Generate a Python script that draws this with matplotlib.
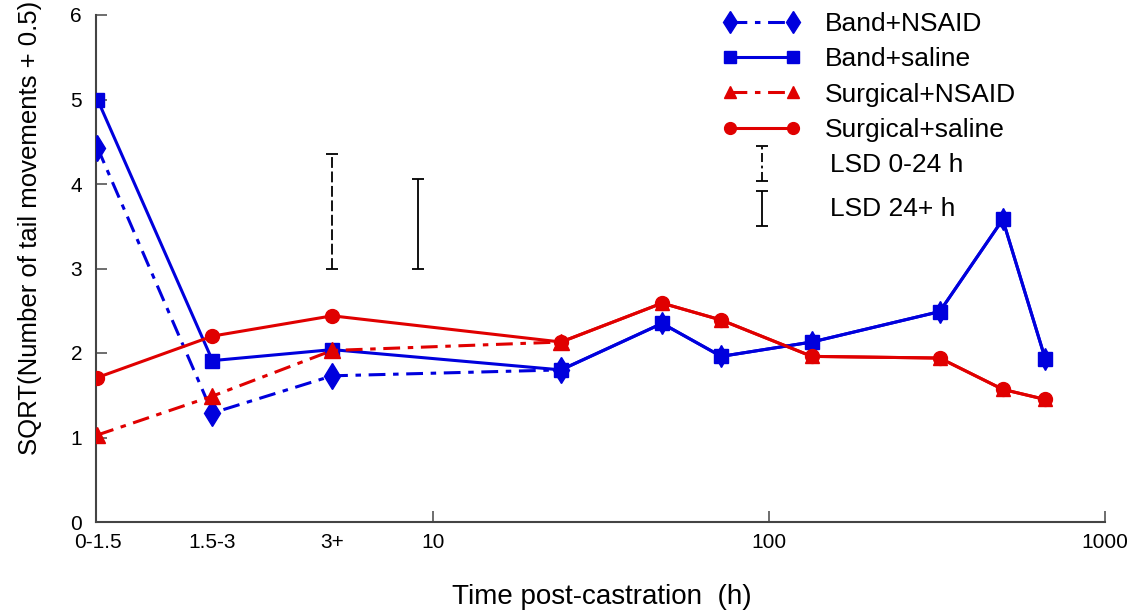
import numpy as np
import matplotlib
matplotlib.use('Agg')
import matplotlib.pyplot as plt

plt.rcParams['font.family'] = ['Liberation Sans', 'DejaVu Sans']

# time (h) on a log axis; the first three are binned categories
hours = [1, 2.2, 5, 24, 48, 72, 134, 322, 496, 664]
early_hours = [1, 2.2, 5, 24]
cat_ticks = [1, 2.2, 5]
cat_labels = ['0-1.5', '1.5-3', '3+']
major_ticks = [10, 100, 1000]

# after 24 h the NSAID and saline groups share the same curve
band_saline = [5.00, 1.91, 2.04, 1.80, 2.35, 1.96, 2.13, 2.49, 3.58, 1.93]
band_nsaid = [4.43, 1.29, 1.73, 1.80]
surg_saline = [1.71, 2.20, 2.44, 2.13, 2.59, 2.39, 1.96, 1.94, 1.57, 1.45]
surg_nsaid = [1.03, 1.49, 2.03, 2.13]

# least significant differences
lsd_base = 3.0
lsd_early = 1.35   # 0-24 h, drawn at 3+ bin
lsd_late = 1.06    # 24+ h
lsd_early_x = 5
lsd_late_x = 9

blue = '#0000dd'
red = '#e00000'

fig = plt.figure(figsize=(11.37, 6.15), dpi=100)
ax = fig.add_axes([96/1137, 1-522/615, (1105-96)/1137, (522-15)/615])

lw = 2.2
dash = (5.5, 2.5, 1.8, 2.5)
ax.plot(hours[3:], band_nsaid[3:] + band_saline[4:], color=blue, lw=lw,
        marker='d', ms=11, zorder=3)
ax.plot(early_hours, band_nsaid, color=blue, lw=lw, dashes=dash,
        marker='d', ms=13, label='Band+NSAID', zorder=3)
ax.plot(hours, band_saline, color=blue, lw=lw, marker='s', ms=10,
        label='Band+saline', zorder=4)
ax.plot(hours[3:], surg_nsaid[3:] + surg_saline[4:], color=red, lw=lw,
        marker='^', ms=10, zorder=3)
ax.plot(early_hours, surg_nsaid, color=red, lw=lw, dashes=dash,
        marker='^', ms=11, label='Surgical+NSAID', zorder=5)
ax.plot(hours, surg_saline, color=red, lw=lw, marker='o', ms=10,
        label='Surgical+saline', zorder=4)

# LSD bars
eb = ax.errorbar([lsd_early_x], [lsd_base + lsd_early / 2], yerr=lsd_early / 2,
                 fmt='none', ecolor='black', elinewidth=1.3, capsize=4.5,
                 capthick=1.3)
eb[2][0].set_linestyle((0, (6, 2)))
ax.errorbar([lsd_late_x], [lsd_base + lsd_late / 2], yerr=lsd_late / 2,
            fmt='none', ecolor='black', elinewidth=1.3, capsize=4.5,
            capthick=1.3)

# LSD legend icons
icon_x = 95
eb = ax.errorbar([icon_x], [4.24], yerr=0.21, fmt='none', ecolor='black',
                 elinewidth=1.3, capsize=4.5, capthick=1.3)
eb[2][0].set_linestyle((0, (5, 2, 1.5, 2)))
ax.errorbar([icon_x], [3.71], yerr=0.21, fmt='none', ecolor='black',
            elinewidth=1.3, capsize=4.5, capthick=1.3)
ax.text(152, 4.22, 'LSD 0-24 h', fontsize=19, va='center', ha='left')
ax.text(152, 3.70, 'LSD 24+ h', fontsize=19, va='center', ha='left')

leg = ax.legend(loc='upper left', bbox_to_anchor=(722/1137, 1-12/615),
                bbox_transform=fig.transFigure, frameon=False, numpoints=2,
                fontsize=19, handlelength=3.0, handletextpad=0.9,
                labelspacing=0.43, borderpad=0, borderaxespad=0,
                markerscale=0.85)

ax.set_xscale('log')
ax.set_xlim(0.99, 1000)
ax.set_ylim(0, 6)
ax.set_xticks(major_ticks, ['10', '100', '1000'])
ax.set_xticks(cat_ticks, cat_labels, minor=True)
ax.set_yticks(np.arange(0, 7, 1))
ax.tick_params(axis='both', which='major', direction='in', length=8,
               width=1.2, labelsize=15, color='#555555')
ax.tick_params(axis='x', which='minor', length=0, labelsize=15, pad=8)
ax.tick_params(axis='x', which='major', pad=8)
ax.tick_params(axis='y', pad=10)

for s in ['top', 'right']:
    ax.spines[s].set_visible(False)
for s in ['left', 'bottom']:
    ax.spines[s].set_linewidth(1.5)
    ax.spines[s].set_color('#444444')

fig.text(602/1137, 1-597/615, 'Time post-castration  (h)', fontsize=20,
         ha='center', va='center')
fig.text(30/1137, 1-228/615, 'SQRT(Number of tail movements + 0.5)',
         fontsize=18.5, rotation=90, ha='center', va='center')

fig.savefig('out.png', dpi=100)
